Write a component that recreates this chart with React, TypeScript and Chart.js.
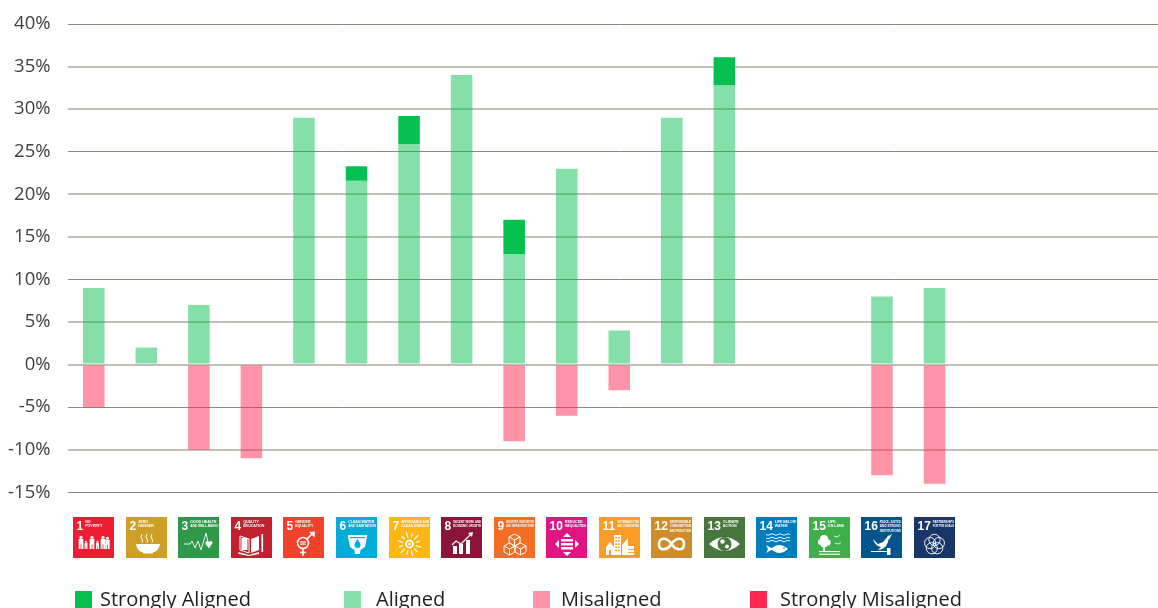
import React, { useEffect, useRef } from "react";
import { Chart, registerables } from "chart.js";

Chart.register(...registerables);

const goals = [
  "No Poverty", "Zero Hunger", "Good Health and Well-Being", "Quality Education", "Gender Equality",
  "Clean Water and Sanitation", "Affordable and Clean Energy", "Decent Work and Economic Growth",
  "Industry, Innovation and Infrastructure", "Reduced Inequalities", "Sustainable Cities and Communities",
  "Responsible Consumption and Production", "Climate Action", "Life Below Water", "Life on Land",
  "Peace, Justice and Strong Institutions", "Partnerships for the Goals", "", "", "", "",
];
const aligned = [9, 2, 7, 0, 29, 21.6, 25.9, 34, 13, 23, 4, 29, 32.8, 0, 0, 8, 9, 0, 0, 0, 0];
const stronglyAligned = [0, 0, 0, 0, 0, 1.7, 3.3, 0, 4, 0, 0, 0, 3.3, 0, 0, 0, 0, 0, 0, 0, 0];
const misaligned = [-5, 0, -10, -11, 0, 0, 0, 0, -9, -6, -3, 0, 0, 0, 0, -13, -14, 0, 0, 0, 0];
const stronglyMisaligned = [0, 0, 0, 0, 0, 0, 0, 0, 0, 0, 0, 0, 0, 0, 0, 0, 0, 0, 0, 0, 0];

const iconColors = [
  "#ED1C33", "#CE9F27", "#2E9A49", "#C1202F", "#F1412B", "#00ADD8", "#FDB713", "#8B1538", "#F36D25",
  "#E11484", "#F99D26", "#CF8D2A", "#48773E", "#007DBC", "#3EB049", "#02558B", "#183668",
];
const iconTitles = [
  ["NO", "POVERTY"], ["ZERO", "HUNGER"], ["GOOD HEALTH", "AND WELL-BEING"], ["QUALITY", "EDUCATION"],
  ["GENDER", "EQUALITY"], ["CLEAN WATER", "AND SANITATION"], ["AFFORDABLE AND", "CLEAN ENERGY"],
  ["DECENT WORK AND", "ECONOMIC GROWTH"], ["INDUSTRY, INNOVATION", "AND INFRASTRUCTURE"],
  ["REDUCED", "INEQUALITIES"], ["SUSTAINABLE CITIES", "AND COMMUNITIES"],
  ["RESPONSIBLE", "CONSUMPTION", "AND PRODUCTION"], ["CLIMATE", "ACTION"], ["LIFE BELOW", "WATER"],
  ["LIFE", "ON LAND"], ["PEACE, JUSTICE", "AND STRONG", "INSTITUTIONS"], ["PARTNERSHIPS", "FOR THE GOALS"],
];
const legendOrder = ["Strongly Aligned", "Aligned", "Misaligned", "Strongly Misaligned"];
const legendBoxX = [75, 344, 533, 750];
const legendTextX = [100, 376, 561, 780];
const softGridTicks = [35, 30, 20, 15, 5, 0, -10];

type C = CanvasRenderingContext2D;

function poly(c: C, pts: number[][], close = true) {
  c.beginPath();
  pts.forEach((p, i) => (i ? c.lineTo(p[0], p[1]) : c.moveTo(p[0], p[1])));
  if (close) { c.closePath(); c.fill(); } else c.stroke();
}
function disc(c: C, x: number, y: number, r: number) {
  c.beginPath(); c.arc(x, y, r, 0, Math.PI * 2); c.fill();
}
function ring(c: C, x: number, y: number, r: number) {
  c.beginPath(); c.arc(x, y, r, 0, Math.PI * 2); c.stroke();
}
function person(c: C, x: number, top: number, h: number) {
  const w = h * 0.36;
  disc(c, x, top + h * 0.1, h * 0.12);
  c.fillRect(x - w / 2, top + h * 0.22, w, h * 0.42);
  c.fillRect(x - w / 2, top + h * 0.6, w * 0.42, h * 0.4);
  c.fillRect(x + w * 0.08, top + h * 0.6, w * 0.42, h * 0.4);
}

const glyphs: ((c: C, bg: string) => void)[] = [
  (c) => {
    person(c, 8, 19, 13); person(c, 13, 24, 8); person(c, 19, 19, 13);
    person(c, 24.5, 24, 8); person(c, 30, 19, 13); person(c, 34.5, 20, 12);
  },
  (c) => {
    c.beginPath(); c.moveTo(10, 27); c.lineTo(34, 27);
    c.quadraticCurveTo(33, 34, 27, 35.5); c.lineTo(27, 36.5); c.lineTo(17, 36.5); c.lineTo(17, 35.5);
    c.quadraticCurveTo(11, 34, 10, 27); c.fill();
    c.lineWidth = 1;
    [16, 21, 26].forEach((x) => {
      c.beginPath(); c.moveTo(x, 17); c.quadraticCurveTo(x - 2, 20, x, 22); c.quadraticCurveTo(x + 1.5, 24, x, 25.5); c.stroke();
    });
  },
  (c) => {
    c.lineWidth = 0.9;
    poly(c, [[6, 27], [12, 27], [14, 24], [17, 31], [20, 24], [23, 33], [28, 16], [30, 25]], false);
    c.beginPath(); c.moveTo(31, 31.5); c.lineTo(27.5, 27); c.arc(29.3, 26, 1.9, Math.PI, 0); c.arc(32.7, 26, 1.9, Math.PI, 0);
    c.lineTo(31, 31.5); c.fill();
  },
  (c) => {
    c.lineWidth = 1;
    poly(c, [[9, 19], [18, 22], [18, 36], [9, 33]], false);
    poly(c, [[9, 33], [9, 19]], false);
    poly(c, [[28, 19], [20, 22], [20, 36], [28, 33], [28, 19]]);
    c.fillRect(10.5, 21, 6, 12);
    c.fillRect(30.5, 17, 1.6, 18);
    poly(c, [[7.5, 21], [7.5, 35], [18, 38], [28, 35], [28, 37], [18, 39], [7.5, 37]]);
  },
  (c) => {
    c.lineWidth = 1.6;
    ring(c, 20, 26, 5.5);
    c.fillRect(17.2, 24.3, 5.6, 1.2); c.fillRect(17.2, 26.5, 5.6, 1.2);
    poly(c, [[20, 31.5], [20, 39]], false);
    poly(c, [[17, 35.5], [23, 35.5]], false);
    poly(c, [[24, 22], [30, 16]], false);
    poly(c, [[26, 15], [32, 14.5], [31.5, 20.5]]);
  },
  (c, bg) => {
    poly(c, [[12, 18], [31, 18], [31, 19.5], [29, 30], [24.5, 33], [24, 37], [19, 37], [18.5, 33], [14, 30], [12, 19.5]]);
    c.fillStyle = bg;
    c.fillRect(14, 20, 15, 1.2);
    c.beginPath(); c.moveTo(21.5, 22); c.quadraticCurveTo(18.5, 26, 18.5, 28); c.arc(21.5, 28, 3, Math.PI, 0, true); c.quadraticCurveTo(24.5, 26, 21.5, 22); c.fill();
  },
  (c) => {
    c.lineWidth = 1.8; ring(c, 20.5, 27, 3.5); disc(c, 20.5, 27, 1.3);
    c.lineWidth = 1.2;
    for (let i = 0; i < 12; i++) {
      const a = (i * Math.PI) / 6 + 0.26;
      const r1 = 6.5, r2 = i % 2 ? 11 : 12.5;
      poly(c, [[20.5 + r1 * Math.cos(a), 27 + r1 * Math.sin(a)], [20.5 + r2 * Math.cos(a), 27 + r2 * Math.sin(a)]], false);
    }
  },
  (c) => {
    c.fillRect(12, 29, 4, 8); c.fillRect(18, 27, 4, 10); c.fillRect(25, 23, 4, 14);
    c.lineWidth = 1.2;
    poly(c, [[11, 28], [15, 24], [20, 27], [30, 17]], false);
    poly(c, [[27, 16], [32, 15], [31, 20]]);
  },
  (c) => {
    c.lineWidth = 1;
    const cube = (x: number, y: number) => {
      poly(c, [[x, y], [x + 5.5, y - 3], [x + 11, y], [x + 11, y + 6], [x + 5.5, y + 9], [x, y + 6], [x, y]], false);
      poly(c, [[x, y], [x + 5.5, y + 3], [x + 11, y], [x + 5.5, y + 3], [x + 5.5, y + 9]], false);
    };
    cube(15, 20); cube(10, 29); cube(21, 29);
  },
  (c) => {
    c.fillRect(15, 22, 12, 2.5); c.fillRect(15, 26, 12, 2.5); c.fillRect(15, 30, 12, 2.5);
    poly(c, [[21, 16], [25, 20], [17, 20]]);
    poly(c, [[21, 39], [25, 35], [17, 35]]);
    poly(c, [[9, 27], [13, 23], [13, 31]]);
    poly(c, [[33, 27], [29, 23], [29, 31]]);
  },
  (c, bg) => {
    c.fillRect(15, 18, 7, 20);
    poly(c, [[23, 38], [23, 28], [29, 21], [29, 38]]);
    c.fillRect(29, 29, 6, 9);
    poly(c, [[7, 30], [11, 25], [15, 30], [15, 38], [7, 38]]);
    c.fillStyle = bg;
    for (let y = 20; y < 36; y += 3.2) { c.fillRect(16.2, y, 1.8, 1.6); c.fillRect(19, y, 1.8, 1.6); }
    c.fillRect(10, 33, 2, 5);
    c.fillRect(29, 32, 6, 0.8); c.fillRect(29, 35, 6, 0.8);
  },
  (c) => {
    c.lineWidth = 2.6;
    c.beginPath();
    c.moveTo(20.5, 27);
    c.bezierCurveTo(16, 20, 8, 20, 8, 27);
    c.bezierCurveTo(8, 34, 16, 34, 20.5, 27);
    c.bezierCurveTo(25, 20, 33, 20, 33, 27);
    c.bezierCurveTo(33, 34, 25, 34, 20.5, 27);
    c.stroke();
  },
  (c, bg) => {
    c.beginPath(); c.moveTo(5, 27); c.quadraticCurveTo(20.5, 13, 36, 27); c.quadraticCurveTo(20.5, 41, 5, 27); c.fill();
    c.fillStyle = bg; disc(c, 20.5, 27, 7);
    c.fillStyle = "#ffffff"; disc(c, 18.5, 24.5, 2.2); disc(c, 23, 29.5, 2);
  },
  (c) => {
    c.lineWidth = 0.9;
    [17.5, 21, 24].forEach((y) => {
      c.beginPath(); c.moveTo(10, y);
      for (let x = 10; x < 32; x += 4) c.quadraticCurveTo(x + 2, y + (x % 8 === 2 ? 1.5 : -1.5), x + 4, y);
      c.stroke();
    });
    c.beginPath(); c.moveTo(15, 32); c.quadraticCurveTo(23, 24, 32, 32); c.quadraticCurveTo(23, 40, 15, 32); c.fill();
    poly(c, [[17, 32], [10, 28], [12, 32], [10, 36]]);
    c.fillStyle = "#007DBC"; disc(c, 28, 31, 0.8);
  },
  (c) => {
    disc(c, 15, 22, 4); disc(c, 12, 25, 3); disc(c, 18.5, 25.5, 3.2); disc(c, 15, 27, 3.5);
    c.fillRect(14.2, 27, 1.8, 7);
    c.fillRect(10, 34, 21, 1.1); c.fillRect(10, 36.7, 21, 1.1);
    c.lineWidth = 0.8;
    poly(c, [[25, 19], [28, 20], [31, 18]], false);
    poly(c, [[26, 26], [29, 27], [32, 25.5]], false);
  },
  (c) => {
    c.beginPath(); c.moveTo(12, 22); c.lineTo(17, 27); c.lineTo(22, 25); c.lineTo(28, 18); c.lineTo(27, 25); c.quadraticCurveTo(24, 33, 17, 33); c.lineTo(20, 30);
    c.quadraticCurveTo(14, 29, 12, 22); c.fill();
    poly(c, [[26, 20], [31, 17], [28, 23]]);
    c.fillRect(10, 34, 16, 1); c.fillRect(26, 31, 3.5, 7);
  },
  (c) => {
    c.lineWidth = 0.9;
    for (let i = 0; i < 5; i++) {
      const a = -Math.PI / 2 + (i * 2 * Math.PI) / 5;
      ring(c, 20.5 + 4.6 * Math.cos(a), 27.5 + 4.6 * Math.sin(a), 5.6);
    }
  },
];

function drawIcon(c: C, i: number, x0: number, y0: number) {
  c.save();
  c.translate(x0, y0);
  c.fillStyle = iconColors[i];
  c.fillRect(0, 0, 41, 41);
  c.fillStyle = "#ffffff";
  c.strokeStyle = "#ffffff";
  c.textBaseline = "alphabetic";
  c.textAlign = "left";
  c.font = 'bold 12px "Liberation Sans Narrow", "Liberation Sans", sans-serif';
  const num = String(i + 1);
  c.fillText(num, 3.5, 12.5);
  const tx = 3.5 + c.measureText(num).width + 2;
  c.font = 'bold 3.6px "Liberation Sans Narrow", "Liberation Sans", sans-serif';
  iconTitles[i].forEach((line, k) => {
    c.fillText(line, tx, 6 + k * 4.3, 41 - tx - 1);
  });
  glyphs[i](c, iconColors[i]);
  c.restore();
}

const decorations = {
  id: "decorations",
  afterDraw(chart: any) {
    const c: C = chart.ctx;
    const xs = chart.scales.x;
    iconColors.forEach((_, i) => {
      drawIcon(c, i, Math.round(xs.getPixelForValue(i) - 20.5), 517);
    });
    c.save();
    c.font = '20px "Open Sans", sans-serif';
    c.textBaseline = "alphabetic";
    c.textAlign = "left";
    legendOrder.forEach((name, i) => {
      const ds = chart.data.datasets.find((d: any) => d.label === name);
      c.fillStyle = ds.legendColor;
      c.fillRect(legendBoxX[i], 591, 17, 17);
      c.fillStyle = "#1f1f1f";
      c.fillText(name, legendTextX[i], 606);
    });
    c.restore();
  },
};

export default function App() {
  const ref = useRef<HTMLCanvasElement | null>(null);
  useEffect(() => {
    const chart = new Chart(ref.current as HTMLCanvasElement, {
      type: "bar",
      data: {
        labels: goals,
        datasets: [
          { label: "Aligned", data: aligned, backgroundColor: "rgba(5,192,78,0.49)", legendColor: "#84E0A8" },
          { label: "Strongly Aligned", data: stronglyAligned, backgroundColor: "#05C04E", legendColor: "#05C04E" },
          { label: "Misaligned", data: misaligned, backgroundColor: "rgba(255,39,79,0.5)", legendColor: "#FF94AB" },
          { label: "Strongly Misaligned", data: stronglyMisaligned, backgroundColor: "#FF274F", legendColor: "#FF274F" },
        ] as any,
      },
      options: {
        responsive: false,
        animation: false,
        layout: { padding: { top: 24, bottom: 115.7, left: 0, right: 0 } },
        plugins: { legend: { display: false }, tooltip: { enabled: false } },
        datasets: { bar: { barPercentage: 0.41, categoryPercentage: 1 } },
        scales: {
          x: { stacked: true, display: false },
          y: {
            stacked: true,
            min: -15,
            max: 40,
            afterFit: (s: any) => { s.width = 67.5; s.paddingTop = 0; s.paddingBottom = 0; },
            border: { display: false },
            grid: {
              drawTicks: false,
              color: (ctx: any) => (softGridTicks.includes(ctx.tick?.value) ? "#c3bfb8" : "#8d897f"),
              lineWidth: (ctx: any) => (softGridTicks.includes(ctx.tick?.value) ? 2 : 1),
            },
            ticks: {
              stepSize: 5,
              padding: 17,
              color: "#404040",
              font: { family: '"Open Sans", sans-serif', size: 18.5 },
              callback: (v: any) => `${v}%`,
            },
          },
        },
      } as any,
      plugins: [decorations],
    });
    return () => chart.destroy();
  }, []);
  return (
    <div style={{ position: "fixed", left: 0, top: 0, width: 1158, height: 608, overflow: "hidden", background: "#ffffff" }}>
      <canvas ref={ref} width={1171} height={608} style={{ display: "block" }} />
    </div>
  );
}
